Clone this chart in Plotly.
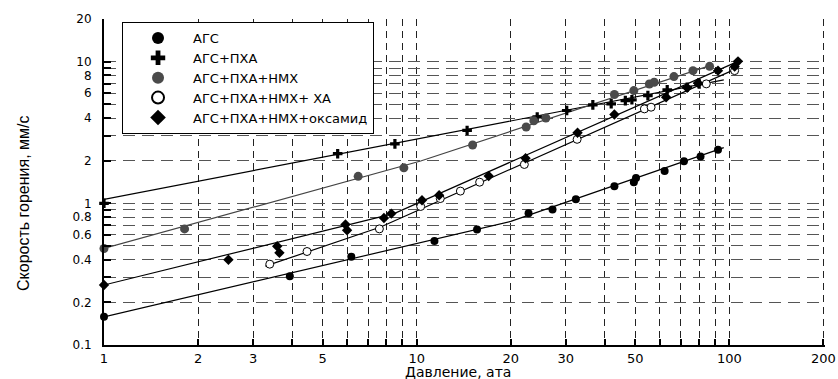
import plotly.graph_objects as go
import math

# ---- data (pressure, atm ; burning rate, mm/s) ----
p_ags = [1, 3.93, 6.18, 11.4, 15.6, 22.8, 27.2, 32.3, 42.9, 49.5, 50.3, 62.1, 71.6, 80.9, 92]
u_ags = [0.158, 0.306, 0.42, 0.543, 0.653, 0.85, 0.905, 1.07, 1.32, 1.41, 1.51, 1.69, 1.98, 2.14, 2.39]

p_pha = [1, 5.59, 8.52, 14.5, 24.3, 30.2, 36.6, 41.9, 46.5, 48.8, 54.9, 63.3, 73.3, 80.1]
u_pha = [1.0, 2.24, 2.63, 3.27, 4.07, 4.52, 4.95, 5.04, 5.31, 5.38, 5.76, 6.32, 6.59, 6.97]

p_hmx = [1, 1.81, 6.5, 9.1, 15.1, 22.4, 23.7, 25.9, 42.9, 49.5, 55.5, 57.5, 66.5, 76.5, 86.5]
u_hmx = [0.48, 0.66, 1.55, 1.78, 2.58, 3.46, 3.82, 4.0, 5.86, 6.25, 6.95, 7.15, 7.84, 8.64, 9.27]

p_xa = [3.39, 4.46, 7.6, 10.3, 11.9, 13.8, 15.9, 22.1, 32.6, 53.5, 56.2, 84.4, 104]
u_xa = [0.372, 0.457, 0.66, 0.95, 1.08, 1.22, 1.41, 1.88, 2.83, 4.64, 4.77, 6.97, 8.64]

p_ox = [1, 2.5, 3.58, 3.64, 5.92, 5.99, 7.86, 8.3, 10.4, 11.8, 17.0, 22.3, 32.7, 42.9, 62.8, 73.3, 79.4, 92, 104, 106.6]
u_ox = [0.265, 0.40, 0.498, 0.447, 0.708, 0.645, 0.788, 0.846, 1.05, 1.14, 1.56, 2.08, 3.15, 4.24, 5.61, 6.53, 7.08, 8.64, 9.22, 10.05]

# fitted (piecewise power-law) lines
fit_ags_p = [1, 20, 96]
fit_ags_u = [0.158, 0.745, 2.47]
fit_pha_p = [1, 96]
fit_pha_u = [1.067, 7.43]
fit_hmx_p = [1, 10.3, 88.7]
fit_hmx_u = [0.48, 1.99, 9.52]
fit_xa_p = [3.28, 7.67, 105]
fit_xa_u = [0.36, 0.68, 8.89]
fit_ox_p = [1, 8.5, 106.6]
fit_ox_u = [0.265, 0.85, 10.05]

names = ["АГС", "АГС+ПХА", "АГС+ПХА+НМХ", "АГС+ПХА+НМХ+ ХА", "АГС+ПХА+НМХ+оксамид"]

x_tickvals = [1, 2, 3, 4, 5, 6, 7, 8, 9, 10, 20, 30, 40, 50, 60, 70, 80, 90, 100, 200]
x_ticktext = ["1", "2", "3", "", "5", "", "", "", "", "10", "20", "30", "", "50", "", "", "", "", "100", "200"]
y_tickvals = [0.1, 0.2, 0.3, 0.4, 0.5, 0.6, 0.7, 0.8, 0.9, 1, 2, 3, 4, 5, 6, 7, 8, 9, 10, 20]
y_ticktext = ["0.1", "0.2", "", "0.4", "", "0.6", "", "0.8", "", "1", "2", "", "4", "", "6", "", "8", "", "10", "20"]

fig = go.Figure()

# fit lines
for px_, pu_, col in [(fit_ags_p, fit_ags_u, "black"), (fit_pha_p, fit_pha_u, "black"),
                      (fit_hmx_p, fit_hmx_u, "#444444"), (fit_xa_p, fit_xa_u, "black"),
                      (fit_ox_p, fit_ox_u, "black")]:
    fig.add_trace(go.Scatter(x=px_, y=pu_, mode="lines", line=dict(color=col, width=1.2),
                             showlegend=False, hoverinfo="skip", cliponaxis=False))

# markers
fig.add_trace(go.Scatter(x=p_ags, y=u_ags, mode="markers", name=names[0], cliponaxis=False,
                         marker=dict(symbol="circle", size=8, color="black")))
fig.add_trace(go.Scatter(x=p_pha, y=u_pha, mode="markers", name=names[1], cliponaxis=False,
                         marker=dict(symbol="cross", size=8, color="black")))
fig.add_trace(go.Scatter(x=p_hmx, y=u_hmx, mode="markers", name=names[2], cliponaxis=False,
                         marker=dict(symbol="circle", size=9, color="#4a4a4a")))
fig.add_trace(go.Scatter(x=p_xa, y=u_xa, mode="markers", name=names[3], cliponaxis=False,
                         marker=dict(symbol="circle", size=8, color="white",
                                     line=dict(color="black", width=1))))
fig.add_trace(go.Scatter(x=p_ox, y=u_ox, mode="markers", name=names[4], cliponaxis=False,
                         marker=dict(symbol="diamond", size=8, color="black")))

xtick_font = dict(family="DejaVu Sans, Liberation Sans, Arial", size=13, color="black")
ytick_font = dict(family="DejaVu Sans, Liberation Sans, Arial", size=12, color="black")

fig.update_layout(
    width=838, height=379,
    margin=dict(l=104, r=13, t=19, b=34, autoexpand=False),
    paper_bgcolor="white", plot_bgcolor="white",
    font=dict(family="DejaVu Sans, Liberation Sans, Arial", color="black"),
    xaxis=dict(type="log", range=[0, math.log10(200) + 0.005], automargin=False,
               tickmode="array", tickvals=x_tickvals, ticktext=x_ticktext,
               tickfont=xtick_font, ticks="inside", ticklen=6, tickwidth=1.5, tickcolor="black",
               showline=True, linecolor="black", linewidth=2,
               showgrid=True, gridcolor="#222222", gridwidth=1, griddash="7px,5px",
               zeroline=False, ticklabelstandoff=0, ticklabeloverflow="allow"),
    yaxis=dict(type="log", range=[-1, math.log10(20)], automargin=False,
               tickmode="array", tickvals=y_tickvals, ticktext=y_ticktext,
               tickfont=ytick_font, ticks="inside", ticklen=7, tickwidth=1.5, tickcolor="black",
               showline=True, linecolor="black", linewidth=2,
               showgrid=True, gridcolor="#555555", gridwidth=1, griddash="12px,7px",
               zeroline=False, ticklabelstandoff=8, ticklabeloverflow="allow"),
    legend=dict(x=0.025, y=0.991, xanchor="left", yanchor="top",
                bgcolor="white", bordercolor="black", borderwidth=1,
                font=dict(family="DejaVu Sans, Liberation Sans, Arial", size=13, color="black"),
                itemsizing="constant", itemwidth=60, tracegroupgap=0),
    annotations=[
        dict(text="Скорость горения, мм/с", textangle=-90,
             xref="paper", yref="paper", x=(23 - 104) / 721, y=(345 - 203) / 326,
             xanchor="center", yanchor="middle", showarrow=False,
             font=dict(family="Liberation Sans, Arial", size=16, color="black")),
        dict(text="Давление, ата",
             xref="paper", yref="paper", x=(458 - 104) / 721, y=(345 - 379) / 326,
             xanchor="center", yanchor="bottom", showarrow=False, yshift=-3,
             font=dict(family="DejaVu Sans, Liberation Sans, Arial", size=14, color="black")),
    ],
)

fig.write_html("out.html")
